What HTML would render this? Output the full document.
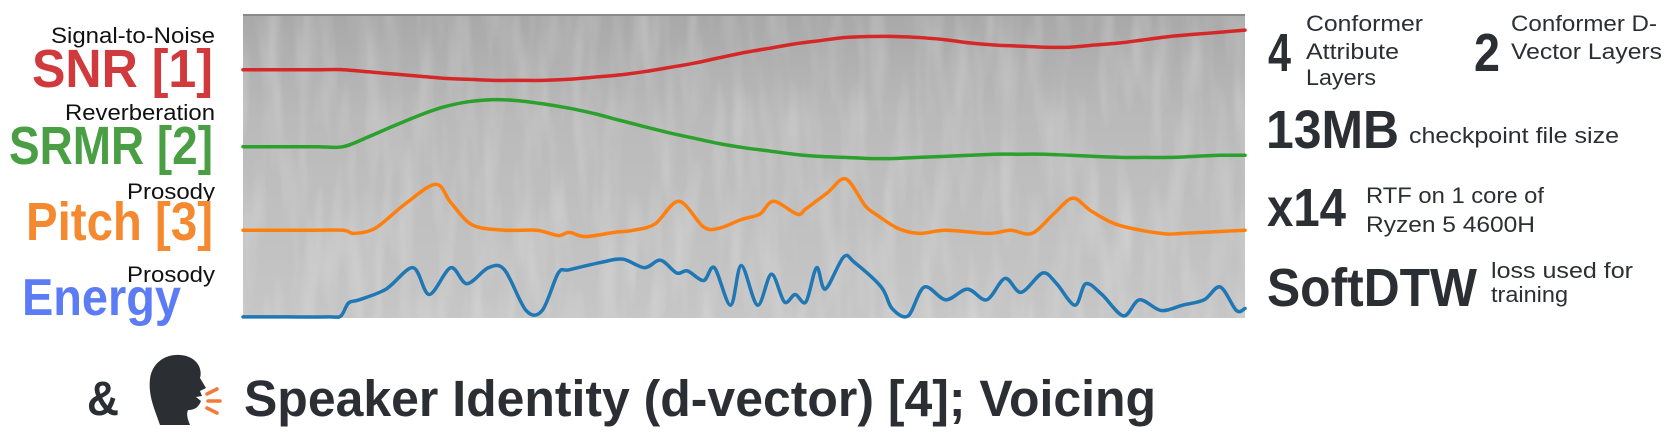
<!DOCTYPE html>
<html>
<head>
<meta charset="utf-8">
<style>
  html,body{margin:0;padding:0;background:#fff;}
  svg{display:block;}
  text{font-family:"Liberation Sans",sans-serif;}
</style>
</head>
<body>
<svg id="fig" width="1678" height="445" viewBox="0 0 1678 445" xmlns="http://www.w3.org/2000/svg">
  <defs>
    <filter id="noise" x="0" y="0" width="100%" height="100%">
      <feTurbulence type="fractalNoise" baseFrequency="0.06 0.01" numOctaves="2" seed="7" result="t"/>
      <feColorMatrix type="matrix" values="0 0 0 0 1  0 0 0 0 1  0 0 0 0 1  1.2 0 0 0 -0.5"/>
    </filter>
    <linearGradient id="specbg" x1="0" y1="0" x2="0" y2="1">
      <stop offset="0" stop-color="#a8a8a8"/>
      <stop offset="0.35" stop-color="#bababa"/>
      <stop offset="1" stop-color="#c6c6c6"/>
    </linearGradient>
  </defs>

  <g>
    <rect x="243" y="14" width="1002" height="304" fill="url(#specbg)"/>
    <rect x="243" y="14" width="1002" height="304" filter="url(#noise)" opacity="0.4"/>
    <rect x="243" y="14" width="1002" height="2" fill="#8a8a8a"/>
  </g>
  <g id="series"></g>

  <g>
    <text x="51" y="43" font-size="22" fill="#111" textLength="164" lengthAdjust="spacingAndGlyphs">Signal-to-Noise</text>
    <text x="32" y="87" font-size="54" font-weight="bold" fill="#d13a3c" textLength="181" lengthAdjust="spacingAndGlyphs">SNR [1]</text>
    <text x="65" y="120" font-size="22" fill="#111" textLength="150" lengthAdjust="spacingAndGlyphs">Reverberation</text>
    <text x="9" y="164" font-size="54" font-weight="bold" fill="#4a9e43" textLength="204" lengthAdjust="spacingAndGlyphs">SRMR [2]</text>
    <text x="127" y="199" font-size="22" fill="#111" textLength="88" lengthAdjust="spacingAndGlyphs">Prosody</text>
    <text x="26" y="240" font-size="54" font-weight="bold" fill="#f4892f" textLength="187" lengthAdjust="spacingAndGlyphs">Pitch [3]</text>
    <text x="127" y="282" font-size="22" fill="#111" textLength="88" lengthAdjust="spacingAndGlyphs">Prosody</text>
    <text x="22" y="315" font-size="52" font-weight="bold" fill="#5b7cf5" textLength="159" lengthAdjust="spacingAndGlyphs">Energy</text>
  </g>

  <g fill="#2b2f33">
    <text x="1268" y="71" font-size="54" font-weight="bold" textLength="23" lengthAdjust="spacingAndGlyphs">4</text>
    <text x="1306" y="31" font-size="22" textLength="117" lengthAdjust="spacingAndGlyphs">Conformer</text>
    <text x="1306" y="59" font-size="22" textLength="93" lengthAdjust="spacingAndGlyphs">Attribute</text>
    <text x="1306" y="85" font-size="22" textLength="70" lengthAdjust="spacingAndGlyphs">Layers</text>
    <text x="1474" y="71" font-size="54" font-weight="bold" textLength="26" lengthAdjust="spacingAndGlyphs">2</text>
    <text x="1511" y="31" font-size="22" textLength="146" lengthAdjust="spacingAndGlyphs">Conformer D-</text>
    <text x="1511" y="59" font-size="22" textLength="151" lengthAdjust="spacingAndGlyphs">Vector Layers</text>
    <text x="1266" y="148" font-size="54" font-weight="bold" textLength="133" lengthAdjust="spacingAndGlyphs">13MB</text>
    <text x="1409" y="143" font-size="22" textLength="210" lengthAdjust="spacingAndGlyphs">checkpoint file size</text>
    <text x="1267" y="226" font-size="54" font-weight="bold" textLength="79" lengthAdjust="spacingAndGlyphs">x14</text>
    <text x="1366" y="203" font-size="22" textLength="178" lengthAdjust="spacingAndGlyphs">RTF on 1 core of</text>
    <text x="1366" y="232" font-size="22" textLength="169" lengthAdjust="spacingAndGlyphs">Ryzen 5 4600H</text>
    <text x="1267" y="306" font-size="54" font-weight="bold" textLength="210" lengthAdjust="spacingAndGlyphs">SoftDTW</text>
    <text x="1491" y="278" font-size="22" textLength="142" lengthAdjust="spacingAndGlyphs">loss used for</text>
    <text x="1491" y="302" font-size="22" textLength="77" lengthAdjust="spacingAndGlyphs">training</text>
  </g>

  <g>
    <text x="87" y="415" font-size="48" font-weight="bold" fill="#2b2f33" textLength="32" lengthAdjust="spacingAndGlyphs">&amp;</text>
    <g>
      <path d="M160,425 C155,410 148,396 150,379 C152,363 165,354 180,355 C196,356 203,368 200,378 L206,388 L200,391 L202,396 L196,397 L201,401 C199,406 196,410 188,410 C186,415 188,420 190,425 Z" fill="#2b2f33"/>
      <g stroke="#f47a3a" stroke-width="3.5" stroke-linecap="round">
        <line x1="207" y1="394" x2="217" y2="389"/>
        <line x1="208" y1="401" x2="220" y2="401"/>
        <line x1="207" y1="408" x2="217" y2="413"/>
      </g>
    </g>
    <text x="244" y="416" font-size="51" font-weight="bold" fill="#2b2f33" textLength="912" lengthAdjust="spacingAndGlyphs">Speaker Identity (d-vector) [4]; Voicing</text>
  </g>
</svg>

<script>
// time frames (0..931) and feature values (0..284 units, higher = higher on chart)
const snrFrames = [0,23,47,70,93,116,139,163,186,209,233,256,279,303,326,349,372,396,419,442,466,489,512,535,559,582,605,628,652,675,698,722,745,768,791,815,838,861,884,908,931];
const snrValues = [232,232,232,232,232,230,228,226,224,223,222,222,222,223,225,227,230,234,238,243,248,252,256,259,262,263,263,262,260,257,255,254,253,253,255,257,260,263,265,267,269];
const srmrFrames = snrFrames;
const srmrValues = [160,160,160,160,160,169,179,189,197,202,204,203,200,196,191,185,179,173,168,163,159,156,153,151,150,149,149,150,151,152,153,153,153,152,151,150,150,150,151,152,152];
const pitchFrames = [0,60,93,103,123,150,179,193,213,243,273,293,303,318,345,363,383,405,428,443,463,480,493,515,523,543,560,578,588,608,628,653,693,713,733,753,771,788,813,853,873,931];
const pitchValues = [82,82,82,79,84,106,125,108,87,82,82,77,80,76,80,82,88,109,85,84,92,97,109,97,102,117,130,105,97,84,79,82,79,82,79,97,112,100,87,79,79,82];
const energyFrames = [0,40,80,91,98,108,133,158,173,193,208,228,243,263,278,293,303,333,353,373,388,403,413,428,438,453,463,478,491,503,513,523,533,541,558,568,593,603,618,633,653,673,691,708,723,743,756,773,783,798,818,833,853,873,893,908,923,931];
const energyValues = [1,1,1,2,14,17,27,47,22,47,32,47,45,7,7,42,45,52,55,47,54,42,44,35,47,12,49,12,41,15,22,15,47,27,57,52,29,9,2,29,17,27,17,37,24,42,32,12,32,22,2,17,7,12,17,29,7,9];

const X0 = 243, X1 = 1245, Y0 = 14, Y1 = 318;
const FRAME_MAX = 931, VAL_MAX = 284;
function xScale(f){ return X0 + (f / FRAME_MAX) * (X1 - X0); }
function yScale(v){ return Y1 - (v / VAL_MAX) * (Y1 - Y0); }

function smoothPath(frames, values){
  const pts = frames.map((f,i)=>[xScale(f), yScale(values[i])]);
  let d = 'M' + pts[0][0].toFixed(1) + ',' + pts[0][1].toFixed(1);
  for(let i=0;i<pts.length-1;i++){
    const p0 = pts[Math.max(0,i-1)], p1 = pts[i], p2 = pts[i+1], p3 = pts[Math.min(pts.length-1,i+2)];
    const t = 0.16;
    const c1x = p1[0] + (p2[0]-p0[0])*t, c1y = p1[1] + (p2[1]-p0[1])*t;
    const c2x = p2[0] - (p3[0]-p1[0])*t, c2y = p2[1] - (p3[1]-p1[1])*t;
    d += ' C' + c1x.toFixed(1)+','+c1y.toFixed(1)+' '+c2x.toFixed(1)+','+c2y.toFixed(1)+' '+p2[0].toFixed(1)+','+p2[1].toFixed(1);
  }
  return d;
}

const NS = 'http://www.w3.org/2000/svg';
const g = document.getElementById('series');

const snrLine = document.createElementNS(NS,'path');


snrLine.setAttribute('d', smoothPath(snrFrames, snrValues));
snrLine.setAttribute('stroke', '#d62728');
g.appendChild(snrLine);

const srmrLine = document.createElementNS(NS,'path');


srmrLine.setAttribute('d', smoothPath(srmrFrames, srmrValues));
srmrLine.setAttribute('stroke', '#2ca02c');
g.appendChild(srmrLine);

const pitchLine = document.createElementNS(NS,'path');


pitchLine.setAttribute('d', smoothPath(pitchFrames, pitchValues));
pitchLine.setAttribute('stroke', '#ff7f0e');
g.appendChild(pitchLine);

const energyLine = document.createElementNS(NS,'path');


energyLine.setAttribute('d', smoothPath(energyFrames, energyValues));
energyLine.setAttribute('stroke', '#1f77b4');
g.appendChild(energyLine);

[snrLine, srmrLine, pitchLine, energyLine].forEach(p=>{
  p.setAttribute('fill','none');
  p.setAttribute('stroke-width','3.5');
  p.setAttribute('stroke-linejoin','round');
  p.setAttribute('stroke-linecap','round');
});
</script>
</body>
</html>
